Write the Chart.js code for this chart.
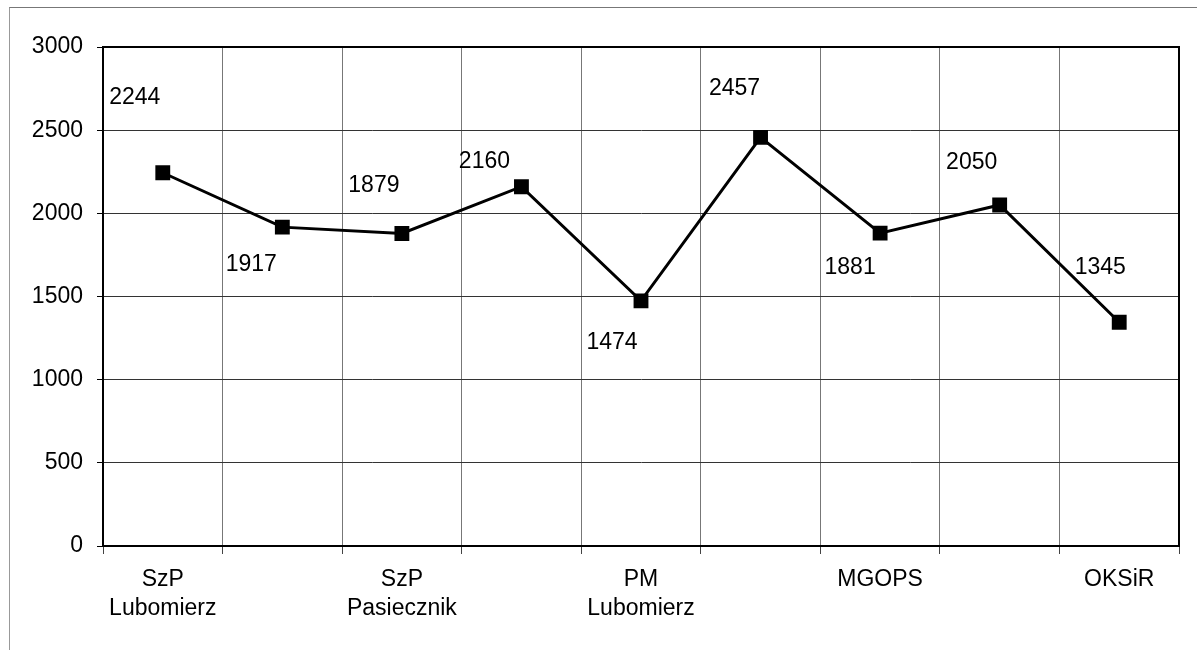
<!DOCTYPE html>
<html>
<head>
<meta charset="utf-8">
<title>Wykres</title>
<script src="https://cdn.jsdelivr.net/npm/chart.js@4"></script>
<style>
  html, body { margin: 0; padding: 0; background: #fff; }
  #wrap { position: relative; width: 1197px; height: 650px; overflow: hidden; }
  #frame { position: absolute; left: 9px; top: 7px; width: 1200px; height: 660px;
           border-left: 1px solid #999; border-top: 1px solid #777; }
  #chart { position: absolute; left: 0; top: 0; }
</style>
</head>
<body>
<div id="wrap">
  <div id="frame"></div>
  <canvas id="chart" width="1197" height="650"></canvas>
</div>
<script>
// categories (every second label is not shown in the original)
const categories = [
  ["SzP", "Lubomierz"], "", ["SzP", "Pasiecznik"], "", ["PM", "Lubomierz"],
  "", "MGOPS", "", "OKSiR"
];
const values = [2244, 1917, 1879, 2160, 1474, 2457, 1881, 2050, 1345];
const yTicks = [0, 500, 1000, 1500, 2000, 2500, 3000];

// where each value label sits relative to its point (px)
const labelShift = [
  [-28, -75], [-31, 38], [-28, -48], [-37, -25], [-29, 42],
  [-26, -49], [-30, 35], [-28, -42], [-19, -55]
];

const FONT = "'Liberation Sans', Arial, sans-serif";

const valueLabels = {
  id: "valueLabels",
  afterDraw(chart) {
    const ctx = chart.ctx;
    const a = chart.chartArea;
    // heavy top and right edge of the plot area
    ctx.save();
    ctx.strokeStyle = "#000";
    ctx.lineWidth = 2;
    ctx.beginPath();
    ctx.moveTo(a.left, a.top);
    ctx.lineTo(a.right, a.top);
    ctx.lineTo(a.right, a.bottom);
    ctx.stroke();
    ctx.restore();
  },
  afterDatasetsDraw(chart) {
    const ctx = chart.ctx;
    const meta = chart.getDatasetMeta(0);
    ctx.save();
    ctx.font = "23px " + FONT;
    ctx.fillStyle = "#000";
    ctx.textAlign = "center";
    ctx.textBaseline = "middle";
    meta.data.forEach((pt, i) => {
      const [dx, dy] = labelShift[i];
      ctx.fillText(String(values[i]), pt.x + dx, pt.y + dy);
    });
    ctx.restore();
  }
};

new Chart(document.getElementById("chart"), {
  type: "line",
  data: {
    labels: categories,
    datasets: [{
      data: values,
      borderColor: "#000",
      borderWidth: 3,
      backgroundColor: "#000",
      pointStyle: "rect",
      pointRadius: 10.5,
      pointBorderWidth: 0,
      pointBackgroundColor: "#000",
      tension: 0,
    }],
  },
  options: {
    responsive: false,
    animation: false,
    events: [],
    layout: { padding: { left: 0, top: 47, right: 18, bottom: 0 } },
    plugins: { legend: { display: false }, tooltip: { enabled: false } },
    scales: {
      x: {
        offset: true,
        grid: {
          offset: true,
          color: "#777",
          lineWidth: 1,
          tickLength: 8,
          tickColor: "#444",
        },
        border: { color: "#000", width: 2 },
        ticks: {
          autoSkip: false,
          maxRotation: 0,
          color: "#000",
          padding: 11,
          font: { family: FONT, size: 23, lineHeight: 1.27 },
        },
        afterFit(scale) { scale.height = 104; },
      },
      y: {
        min: 0,
        max: 3000,
        afterBuildTicks(scale) { scale.ticks = yTicks.map(v => ({ value: v })); },
        grid: {
          color: "#333",
          lineWidth: 1,
          tickLength: 6,
          tickColor: "#000",
        },
        border: { color: "#000", width: 2 },
        ticks: {
          color: "#000",
          padding: 14,
          font: { family: FONT, size: 23 },
          callback: v => String(v),
        },
        afterFit(scale) { scale.width = 103; },
      },
    },
  },
  plugins: [valueLabels],
});
</script>
</body>
</html>
